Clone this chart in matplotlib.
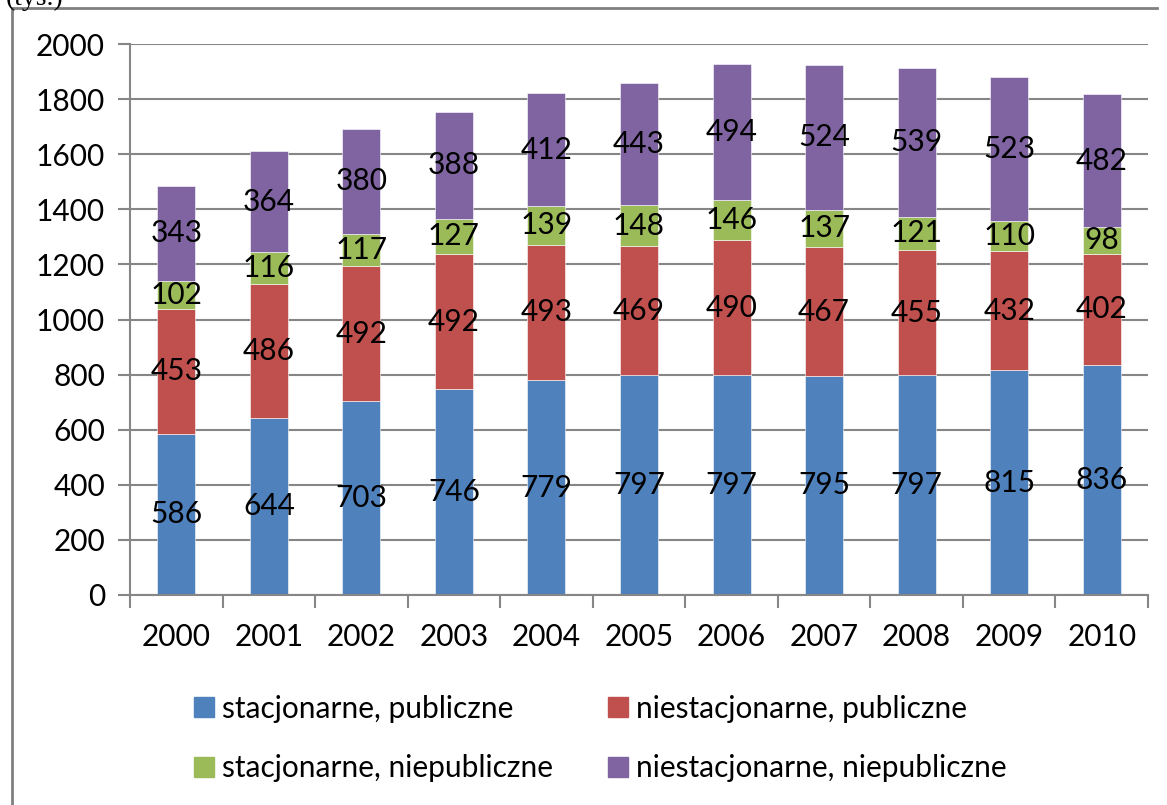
import matplotlib.pyplot as plt
import numpy as np
from matplotlib.lines import Line2D

plt.rcParams['font.family'] = ['Lato', 'DejaVu Sans']

years = ['2000', '2001', '2002', '2003', '2004', '2005', '2006', '2007', '2008', '2009', '2010']
stac_publ = [586, 644, 703, 746, 779, 797, 797, 795, 797, 815, 836]
niestac_publ = [453, 486, 492, 492, 493, 469, 490, 467, 455, 432, 402]
stac_niepubl = [102, 116, 117, 127, 139, 148, 146, 137, 121, 110, 98]
niestac_niepubl = [343, 364, 380, 388, 412, 443, 494, 524, 539, 523, 482]

series = [
    ('stacjonarne, publiczne', stac_publ, '#4F81BD'),
    ('niestacjonarne, publiczne', niestac_publ, '#C0504D'),
    ('stacjonarne, niepubliczne', stac_niepubl, '#9BBB59'),
    ('niestacjonarne, niepubliczne', niestac_niepubl, '#8064A2'),
]

FS = 21.5
W, H = 1167, 805
fig = plt.figure(figsize=(W / 100, H / 100), dpi=100)
ax = fig.add_axes([130 / W, 1 - 595 / H, (1148 - 130) / W, (595 - 44) / H])

x = np.arange(len(years))
bottom = np.zeros(len(years))
for name, vals, col in series:
    vals = np.array(vals)
    ax.bar(x, vals, width=0.41, bottom=bottom, color=col, zorder=2,
           edgecolor='white', linewidth=0.4)
    for xi, b, v in zip(x, bottom, vals):
        ax.text(xi, b + v / 2, str(v), ha='center', va='center', fontsize=FS, zorder=3)
    bottom += vals

grid_col = '#868686'
ax.set_xlim(-0.5, len(years) - 0.5)
ax.set_ylim(0, 2000)
ax.set_yticks(range(0, 2001, 200))
ax.yaxis.grid(True, color=grid_col, linewidth=1.5, zorder=0)
ax.set_xticks(x)
ax.set_xticklabels(years)
ax.set_xticks(np.arange(-0.5, len(years), 1), minor=True)
ax.tick_params(axis='x', which='major', length=0, pad=20, labelsize=FS)
ax.tick_params(axis='x', which='minor', length=9, width=1.5, color=grid_col)
ax.tick_params(axis='y', length=9, width=1.5, color=grid_col, labelsize=FS, pad=9)
for s in ['top', 'right']:
    ax.spines[s].set_visible(False)
for s in ['left', 'bottom']:
    ax.spines[s].set_color(grid_col)
    ax.spines[s].set_linewidth(1.5)

order = ['stacjonarne, publiczne', 'stacjonarne, niepubliczne',
         'niestacjonarne, publiczne', 'niestacjonarne, niepubliczne']
colors = {n: c for n, _, c in series}
leg_handles = [Line2D([], [], marker='s', linestyle='', markersize=14,
                      markerfacecolor=colors[n], markeredgecolor=colors[n]) for n in order]
fig.legend(leg_handles, order, ncol=2, loc='upper left', bbox_to_anchor=(162 / W, 1 - 668 / H),
           frameon=False, fontsize=FS, handletextpad=0.1, columnspacing=1.7,
           labelspacing=1.05, handlelength=1.0)

# outer chart frame (left and top edges visible)
fig.add_artist(Line2D([12 / W, 12 / W], [0, 1 - 8 / H], color='#808080', linewidth=2))
fig.add_artist(Line2D([12 / W, 1157 / W], [1 - 8 / H, 1 - 8 / H], color='#808080', linewidth=2))
fig.text(6 / W, 1 + 2 / H, '(tys.)', fontsize=20, family='Liberation Serif', ha='left', va='center')

fig.savefig('out.png', dpi=100)
